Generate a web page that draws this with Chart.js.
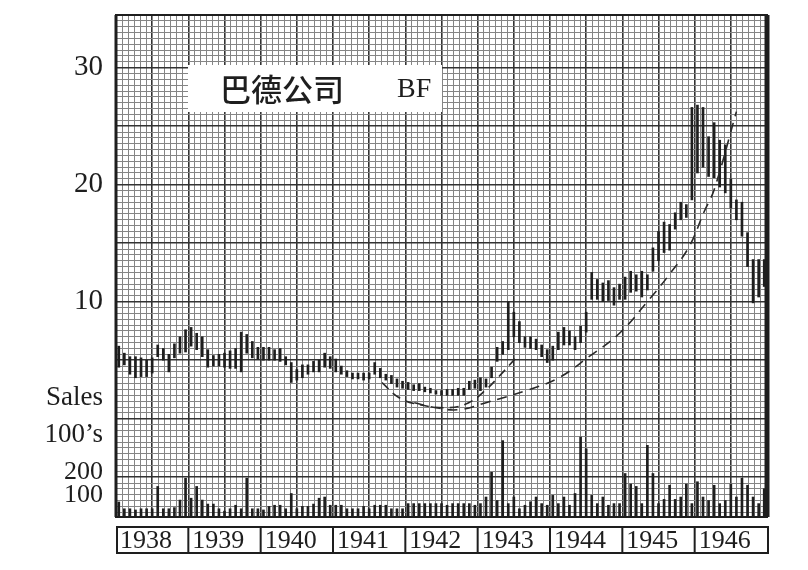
<!DOCTYPE html>
<html><head><meta charset="utf-8">
<script src="https://cdn.jsdelivr.net/npm/chart.js@4"></script>
<style>html,body{margin:0;padding:0;background:#fff}</style>
</head><body>
<canvas id="c" width="808" height="570"></canvas>
<script>
// ---------- data ----------
const years = ['1938','1939','1940','1941','1942','1943','1944','1945','1946'];
const periodsPerYear = 13;
const priceHigh = [
  6.2,5.6,5.3,5.3,5.2,5.0,5.2,6.3,6.0,5.5,6.4,7.0,7.6,
  7.8,7.3,7.0,5.9,5.4,5.5,5.6,5.8,6.0,7.4,7.2,6.6,6.1,
  6.1,6.1,5.9,6.0,5.3,4.8,4.2,4.6,4.6,4.9,5.0,5.6,5.3,
  5.1,4.5,4.1,3.9,3.9,3.9,3.9,4.8,4.3,3.8,3.7,3.4,3.2,
  3.1,2.9,3.0,2.7,2.6,2.4,2.4,2.5,2.5,2.6,2.6,3.2,3.3,
  3.5,3.4,4.4,6.1,6.6,10.0,9.1,8.3,7.0,7.0,6.8,6.3,5.9,
  6.2,7.4,7.8,7.5,7.0,7.9,9.1,12.5,11.9,11.6,11.8,11.2,11.5,
  12.1,12.6,12.3,12.6,12.3,14.6,16.0,16.8,16.6,17.6,18.5,18.3,26.6,
  26.8,26.6,24.1,25.3,23.8,23.4,20.5,18.7,18.5,15.9,13.6,13.6,13.6
];
const priceLow = [
  4.4,4.6,3.8,3.5,3.6,3.6,3.9,5.3,5.0,4.0,5.2,5.6,5.7,
  6.2,5.9,5.3,4.4,4.5,4.5,4.4,4.3,4.3,4.0,5.6,5.2,5.1,
  5.0,5.0,5.0,4.9,4.6,3.1,3.3,3.5,3.8,4.0,4.0,4.4,4.3,
  4.0,3.8,3.6,3.4,3.4,3.3,3.4,3.8,3.5,3.3,3.0,2.7,2.6,
  2.5,2.4,2.4,2.3,2.2,2.1,2.0,2.0,2.0,2.0,2.0,2.5,2.6,
  2.4,2.7,3.5,4.9,5.5,5.9,7.0,6.5,6.1,6.0,5.9,5.3,4.8,
  5.0,5.9,6.3,6.3,5.9,6.5,7.4,10.2,10.2,10.0,10.1,9.7,10.2,
  10.2,10.8,10.9,10.4,11.0,12.6,13.5,14.2,14.4,16.2,17.0,17.2,18.7,
  21.0,21.5,20.7,20.6,19.8,19.3,18.0,17.0,15.6,13.0,9.9,10.4,11.3
];
const volume = [
  64,35,35,30,35,35,35,130,35,35,40,72,165,
  80,130,72,55,55,35,25,35,50,35,165,35,35,
  30,45,50,50,35,100,35,45,45,55,80,85,50,
  50,50,35,35,35,45,35,50,50,50,35,35,35,
  57,57,57,57,57,57,57,50,57,57,57,57,50,
  57,85,190,70,325,57,85,35,50,65,85,57,50,
  92,57,85,50,100,340,290,92,57,85,50,57,57,
  185,140,130,57,305,185,57,75,135,75,85,140,57,
  150,85,70,135,57,70,140,85,165,135,85,57,120
];
const priceTicks = [10, 20, 30];
const volumeTicks = [100, 200];
// dashed trend curves (x in periods, y in price)
const curveAx = [47.8, 50.9, 54.5, 59.8, 63.4, 66.5, 68.8, 71.9];
const curveAy = [3.08, 1.79, 1.20, 0.94, 1.37, 2.48, 3.59, 5.21];
const curveBx = [53.6, 57.5, 61.6, 66.5, 74.2, 79.6, 85.0, 90.4, 95.8, 99.7, 103.0, 105.7, 107.5, 111.5];
const curveBy = [1.37, 0.94, 0.77, 1.37, 2.48, 3.50, 5.30, 7.26, 10.17, 12.48, 14.70, 17.69, 19.57, 26.24];
const titleText = '巴德公司';
const tickerText = 'BF';
const volumeTitle = ['Sales', '100\u2019s'];

// ---------- build ----------
const nPeriods = years.length * periodsPerYear;
const priceData = priceHigh.map((h, i) => ({x: i + 0.5, y: [priceLow[i], h]}));
const volData = volume.map((v, i) => ({x: i + 0.5, y: v}));
const curveA = curveAx.map((x, i) => ({x, y: curveAy[i]}));
const curveB = curveBx.map((x, i) => ({x, y: curveBy[i]}));
const INK = '#1e1e1e';
const SERIF = '"Liberation Serif", "DejaVu Serif", serif';

const framePlugin = {
  id: 'frame',
  afterDatasetsDraw(chart) {
    const {ctx, chartArea: a, scales} = chart;
    ctx.save();
    // title box
    ctx.fillStyle = '#fff';
    ctx.fillRect(188, 65, 254, 47);
    ctx.fillStyle = INK;
    ctx.textBaseline = 'middle';
    ctx.textAlign = 'left';
    ctx.font = '500 31px "Noto Sans CJK SC"';
    ctx.fillText(titleText, 220, 89);
    ctx.font = '28px ' + SERIF;
    ctx.fillText(tickerText, 397, 90);
    // frame
    ctx.strokeStyle = INK;
    ctx.lineWidth = 2;
    ctx.strokeRect(a.left, a.top, a.right - a.left, a.bottom - a.top);
    ctx.lineWidth = 3;
    ctx.beginPath(); ctx.moveTo(a.left, a.top); ctx.lineTo(a.left, a.bottom); ctx.stroke();
    ctx.lineWidth = 5;
    ctx.beginPath(); ctx.moveTo(a.right, a.top); ctx.lineTo(a.right, a.bottom); ctx.stroke();
    // year boxes
    const x = scales.x;
    const top = 527, bot = 553;
    ctx.lineWidth = 2;
    ctx.strokeRect(a.left + 1, top, a.right - a.left, bot - top);
    ctx.font = '26px ' + SERIF;
    ctx.textBaseline = 'middle';
    years.forEach((yr, i) => {
      const x0 = x.getPixelForValue(i * periodsPerYear);
      if (i > 0) { ctx.beginPath(); ctx.moveTo(x0, top); ctx.lineTo(x0, bot); ctx.stroke(); }
      ctx.fillText(yr, x0 + 4, (top + bot) / 2 + 1);
    });
    // volume labels
    const yv = scales.yv;
    ctx.textAlign = 'right';
    ctx.font = '27px ' + SERIF;
    ctx.fillText(volumeTitle[0], 103, yv.getPixelForValue(520) + 3);
    ctx.fillText(volumeTitle[1], 103, yv.getPixelForValue(360) + 3);
    ctx.font = '26px ' + SERIF;
    volumeTicks.forEach(v => ctx.fillText(String(v), 103, yv.getPixelForValue(v) + 2));
    ctx.restore();
  }
};

const bgPlugin = {
  id: 'bg',
  beforeDraw(chart) {
    const ctx = chart.ctx;
    ctx.save(); ctx.fillStyle = '#fff'; ctx.fillRect(0, 0, chart.width, chart.height); ctx.restore();
  }
};

new Chart(document.getElementById('c'), {
  type: 'bar',
  data: {
    datasets: [
      {type: 'line', data: curveA, borderColor: '#2a2a2a', borderWidth: 1.6, borderDash: [9, 6],
       pointRadius: 0, tension: 0.4, yAxisID: 'y', order: 0},
      {type: 'line', data: curveB, borderColor: '#2a2a2a', borderWidth: 1.6, borderDash: [10, 7],
       pointRadius: 0, tension: 0.4, yAxisID: 'y', order: 0},
      {type: 'bar', data: priceData, backgroundColor: INK, barThickness: 2, grouped: false, yAxisID: 'y', order: 1},
      {type: 'bar', data: volData, backgroundColor: INK, barThickness: 2, grouped: false, yAxisID: 'yv', order: 1}
    ]
  },
  options: {
    responsive: false,
    devicePixelRatio: 1,
    animation: false,
    layout: {padding: {top: 15, right: 41, bottom: 53, left: 0}},
    plugins: {legend: {display: false}, tooltip: {enabled: false}},
    scales: {
      x: {
        type: 'linear', min: 0, max: nPeriods, offset: false,
        afterBuildTicks(s) {
          const t = []; const step = periodsPerYear / 12;
          for (let k = 0; k <= years.length * 12; k++) t.push({value: k * step, major: k % 6 === 0});
          s.ticks = t;
        },
        afterFit(s) { s.height = 0; s.paddingLeft = 0; s.paddingRight = 0; },
        ticks: {display: false, autoSkip: false},
        grid: {offset: false, drawTicks: false,
          color: c => (c.tick && c.tick.major) ? '#333' : '#858585',
          lineWidth: c => (c.tick && c.tick.major) ? 1.6 : 1},
        border: {display: false}
      },
      y: {
        type: 'linear', position: 'left', min: -8.4, max: 34.5,
        afterBuildTicks(s) {
          const t = [];
          for (let k = -16; k <= 69; k++) t.push({value: k / 2});
          s.ticks = t;
        },
        afterFit(s) { s.width = 116; s.paddingTop = 0; s.paddingBottom = 0; },
        ticks: {autoSkip: false, padding: 13, color: INK,
          font: {family: SERIF, size: 29},
          callback: v => priceTicks.includes(v) ? String(v) : ''},
        grid: {drawTicks: false,
          color: c => (c.tick && c.tick.value % 5 === 0) ? '#333' : '#858585',
          lineWidth: c => (c.tick && c.tick.value % 5 === 0) ? 1.6 : 1},
        border: {display: false}
      },
      yv: {type: 'linear', display: false, min: 0, max: 2136, grid: {display: false}}
    }
  },
  plugins: [bgPlugin, framePlugin]
});
</script>
</body></html>
